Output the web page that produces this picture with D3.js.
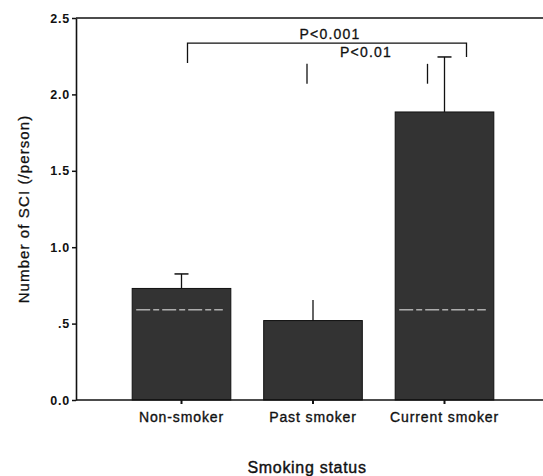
<!DOCTYPE html>
<html>
<head>
<meta charset="utf-8">
<script src="https://cdn.jsdelivr.net/npm/d3@7"></script>
<style>
  body { margin: 0; background: #fff; }
  text { font-family: "Liberation Sans", Arial, sans-serif; }
</style>
</head>
<body>
<div id="chart"></div>
<script>
// data
var categories = ["Non-smoker", "Past smoker", "Current smoker"];
var means = [0.73, 0.52, 1.885];
var errTops = [0.825, 0.655, 2.245];
var yTicks = [0, 0.5, 1.0, 1.5, 2.0, 2.5];
var yTickLabels = ["0.0", ".5", "1.0", "1.5", "2.0", "2.5"];
var dashLevel = 0.59; // white dashed line visible inside bars 1 and 3
var dashBars = [0, 2];

var W = 543, H = 476;
var svg = d3.select("#chart").append("svg")
  .attr("width", W).attr("height", H);

var axisX = 76;
var y = d3.scaleLinear().domain([0, 2.5]).range([400, 18]);
var x = d3.scaleBand().domain(categories)
  .range([115.75, 510.25])
  .paddingInner(0.25).paddingOuter(0.125);

// bars
svg.selectAll("rect.bar")
  .data(means)
  .enter().append("rect")
  .attr("class", "bar")
  .attr("x", function(d, i) { return x(categories[i]); })
  .attr("y", function(d) { return y(d); })
  .attr("width", x.bandwidth())
  .attr("height", function(d) { return y(0) - y(d); })
  .attr("fill", "#333")
  .attr("stroke", "#111")
  .attr("stroke-width", 1);

// dashed white line artefacts
dashBars.forEach(function(i) {
  svg.append("line")
    .attr("x1", x(categories[i]) + 4)
    .attr("x2", x(categories[i]) + x.bandwidth() - 8)
    .attr("y1", y(dashLevel)).attr("y2", y(dashLevel))
    .attr("stroke", "#eee")
    .attr("stroke-width", 1)
    .attr("stroke-dasharray", "14,3,6,3");
});

// error bars (upper only)
errTops.forEach(function(e, i) {
  var cx = x(categories[i]) + x.bandwidth() / 2;
  svg.append("line")
    .attr("x1", cx).attr("x2", cx)
    .attr("y1", y(means[i])).attr("y2", y(e))
    .attr("stroke", "#111").attr("stroke-width", 1.3);
  if (i != 1) {
    svg.append("line")
      .attr("x1", cx - 7).attr("x2", cx + 7)
      .attr("y1", y(e)).attr("y2", y(e))
      .attr("stroke", "#111").attr("stroke-width", 1.5);
  }
});

// y axis
var yAxis = svg.append("g")
  .attr("transform", "translate(" + axisX + ",0)")
  .call(d3.axisLeft(y).tickValues(yTicks).tickSize(4).tickSizeOuter(0)
    .tickFormat(function(d, i) { return yTickLabels[i]; }));
yAxis.select(".domain").attr("stroke", "#111").attr("stroke-width", 1.6);
yAxis.selectAll(".tick line").attr("stroke", "#111").attr("stroke-width", 1.5);
yAxis.selectAll(".tick text")
  .attr("x", -6)
  .style("font-size", "12.5px").style("font-weight", "bold")
  .style("letter-spacing", "0.8px").attr("fill", "#111");

// x axis
var xAxis = svg.append("g")
  .attr("transform", "translate(0," + y(0) + ")")
  .call(d3.axisBottom(x).tickSize(4).tickSizeOuter(0));
xAxis.select(".domain").remove();
xAxis.selectAll(".tick line").attr("stroke", "#111").attr("stroke-width", 2);
xAxis.selectAll(".tick text")
  .attr("y", 12)
  .style("font-size", "14px").style("letter-spacing", "0.9px")
  .attr("fill", "#111").attr("stroke", "#111").attr("stroke-width", 0.35);

svg.append("line")
  .attr("x1", axisX).attr("x2", W)
  .attr("y1", y(0)).attr("y2", y(0))
  .attr("stroke", "#111").attr("stroke-width", 1.6);

// top frame line
svg.append("line")
  .attr("x1", axisX).attr("x2", W)
  .attr("y1", y(2.5)).attr("y2", y(2.5))
  .attr("stroke", "#111").attr("stroke-width", 1.6);

// significance brackets
var brA = 2.336, legA0 = 2.205, legA1 = 2.245;
var xa0 = x(categories[0]) + x.bandwidth() / 2 + 6;
var xa1 = x(categories[2]) + x.bandwidth() / 2 + 22;
svg.append("path")
  .attr("d", "M" + xa0 + "," + y(legA0) + "V" + y(brA) + "H" + xa1 + "V" + y(legA1))
  .attr("fill", "none").attr("stroke", "#111").attr("stroke-width", 1.3);
svg.append("text")
  .attr("x", 330).attr("y", y(brA) - 4)
  .attr("text-anchor", "middle")
  .style("font-size", "14px").style("letter-spacing", "1.2px")
  .attr("fill", "#111").attr("stroke", "#111").attr("stroke-width", 0.3)
  .text("P<0.001");

var legB = [2.07, 2.2];
var xb0 = x(categories[1]) + x.bandwidth() / 2 - 6;
var xb1 = x(categories[2]) + x.bandwidth() / 2 - 17;
[xb0, xb1].forEach(function(xx) {
  svg.append("line")
    .attr("x1", xx).attr("x2", xx)
    .attr("y1", y(legB[0])).attr("y2", y(legB[1]))
    .attr("stroke", "#111").attr("stroke-width", 1.3);
});
svg.append("text")
  .attr("x", 366).attr("y", y(2.245))
  .attr("text-anchor", "middle")
  .style("font-size", "14px").style("letter-spacing", "1.2px")
  .attr("fill", "#111").attr("stroke", "#111").attr("stroke-width", 0.3)
  .text("P<0.01");

// axis titles
svg.append("text")
  .attr("transform", "translate(29,209) rotate(-90)")
  .attr("text-anchor", "middle")
  .style("font-size", "15px").style("letter-spacing", "1.1px")
  .attr("fill", "#111").attr("stroke", "#111").attr("stroke-width", 0.3)
  .text("Number of SCI (/person)");

svg.append("text")
  .attr("x", 307).attr("y", 473)
  .attr("text-anchor", "middle")
  .style("font-size", "16px").style("letter-spacing", "0.7px")
  .attr("fill", "#111").attr("stroke", "#111").attr("stroke-width", 0.4)
  .text("Smoking status");
</script>
</body>
</html>
